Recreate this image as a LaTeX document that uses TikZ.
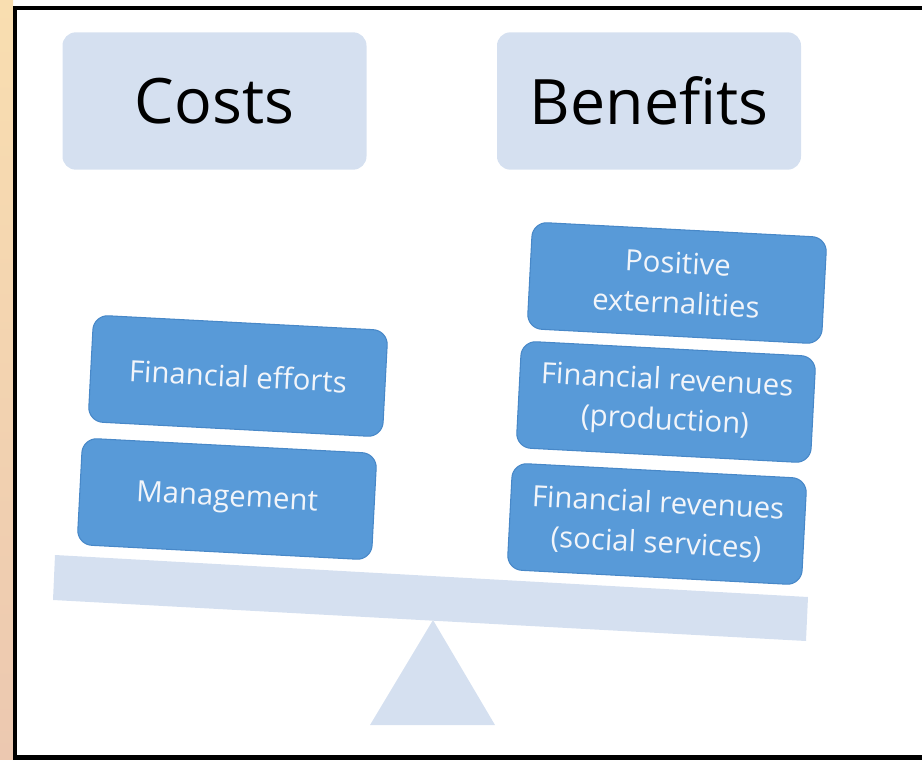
\documentclass[tikz,border=0pt]{standalone}
\usepackage{fontspec}
\setmainfont{Open Sans}
\usetikzlibrary{positioning}

\definecolor{paleblue}{RGB}{213,224,240}
\definecolor{itemblue}{RGB}{88,154,216}
\definecolor{itemedge}{RGB}{72,136,200}
\definecolor{itemtext}{RGB}{242,245,250}
\definecolor{stripA}{RGB}{249,222,176}
\definecolor{stripB}{RGB}{240,228,184}
\definecolor{stripC}{RGB}{236,200,176}

\begin{document}
\begin{tikzpicture}[
    x=0.75pt, y=-0.75pt,
    header/.style={rectangle, rounded corners=10pt, fill=paleblue, minimum width=228pt, minimum height=103pt, font=\fontsize{47}{50}\selectfont, text=black},
    item/.style={rectangle, rounded corners=11pt, draw=itemedge, fill=itemblue, line width=0.8pt, minimum width=221pt, minimum height=80pt, align=center, text=itemtext, font=\fontsize{22}{30}\selectfont, rotate=-3},
    scale part/.style={fill=paleblue}
]
\useasboundingbox (0,0) rectangle (922,760);

% Frame
\shade[top color=stripA, middle color=stripB, bottom color=stripC] (0,0) rectangle (13,760);
\fill[black] (13,6) rectangle (922,10);
\fill[black] (13,6) rectangle (17,760);
\fill[black] (13,755) rectangle (922,760);

% Headers
\node[header] (costs) at (214.5,101) {Costs};
\node[header] (benefits) at (649,101) {Benefits};

% Balance
\fill[scale part] (55,555) -- (808,597) -- (806,641) -- (53,600) -- cycle;
\fill[scale part] (433,620) -- (495,725) -- (370,725) -- cycle;

% Items
\node[item] (efforts) at (238,376) {Financial efforts};
\node[item] (management) at (227,499) {Management};
\node[item] (externalities) at (677,283) {Positive\\externalities};
\node[item] (production) at (666,402) {Financial revenues\\(production)};
\node[item] (social) at (657,524) {Financial revenues\\(social services)};

\end{tikzpicture}
\end{document}
